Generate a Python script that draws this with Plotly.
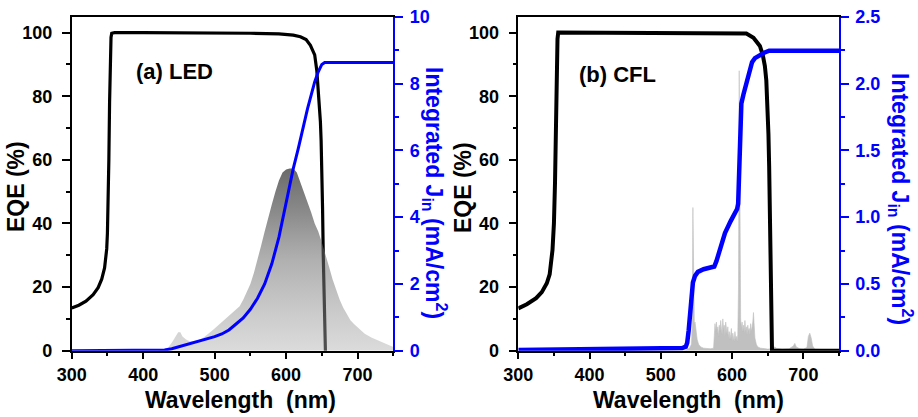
import plotly.graph_objects as go

# ---------------- data ----------------
# (a) LED
eqe_a_wl = [300, 310, 320, 330, 337, 342, 346, 348, 349, 350, 351, 352, 353, 354, 355, 356, 360, 400, 500, 550,
            590, 610, 620, 628, 634, 638, 640, 643, 646, 648, 649, 650, 651, 652, 653, 654, 655]
eqe_a = [13.4, 14.3, 15.6, 17.6, 19.8, 22.5, 26, 29.5, 32, 37, 46, 60, 78, 92, 98.5, 99.8, 100, 100, 100, 99.8,
         99.6, 99.2, 98.7, 97.8, 96, 94, 93, 88, 80, 72, 66, 58, 45, 30, 15, 4, 0]

led_wl = [300, 420, 430, 435, 440, 445, 449, 452, 455, 460, 465, 470, 475, 480, 485, 490, 495, 500, 505, 510,
          515, 520, 525, 530, 535, 540, 545, 550, 555, 560, 565, 570, 575, 580, 585, 590, 595, 600, 605, 610,
          615, 620, 625, 630, 635, 640, 645, 650, 655, 660, 665, 670, 675, 680, 685, 690, 695, 700, 710, 720,
          730, 740, 750]
led_spec = [0, 0, 0.5, 1, 2.5, 4.5, 5.8, 5.8, 4.5, 3.5, 3, 3, 3.2, 3.5, 4.2, 5, 6, 7, 8, 9,
            10, 11, 12, 12.8, 14, 16, 18.5, 21, 24.5, 28.5, 33, 37.5, 42, 46, 50, 53.5, 56, 57, 57.3, 57.3,
            56, 53, 50, 46.5, 43.5, 40, 37.5, 34, 30.5, 26.5, 22.5, 19, 16, 13.5, 11.3, 9.6, 8.4, 7.3, 5.3, 4.1,
            3.1, 2.3, 1.2]

jin_a_wl = [300, 420, 430, 440, 450, 460, 470, 480, 490, 500, 510, 520, 530, 540, 550, 560, 570, 580, 590, 596,
            600, 605, 610, 617, 625, 630, 640, 645, 650, 654, 750]
jin_a = [0, 0, 0.02, 0.06, 0.12, 0.18, 0.23, 0.28, 0.34, 0.42, 0.5, 0.62, 0.8, 0.98, 1.24, 1.57, 2.0, 2.6, 3.4, 4.0,
         4.4, 5.0, 5.45, 6.05, 6.8, 7.25, 8.05, 8.35, 8.57, 8.63, 8.63]

# (b) CFL
eqe_b_wl = [300, 312, 325, 333, 340, 344, 348, 350, 351.5, 352.5, 353.8, 355, 356, 360, 400, 500, 560, 600,
            620, 630, 639, 643, 646, 648, 649.5, 651, 652, 653, 654, 655, 655.5, 656, 750]
eqe_b = [13.3, 14.6, 16.5, 18.4, 21.2, 24, 31.7, 40, 52.7, 70, 89.5, 98, 100, 100, 100, 100, 99.9, 99.8,
         99.7, 98.4, 95.8, 93, 89.5, 85, 79, 68, 58, 42, 26.5, 10, 1.3, 0, 0]

cfl_wl = [300, 535, 536, 540, 543, 544, 545, 546, 547, 548, 549, 550, 551, 553, 556, 560, 565, 570, 574, 575,
          576, 577, 578, 579, 580, 581, 582, 583, 584, 585, 586, 587, 588, 589, 590, 591, 592, 593, 594, 595,
          596, 597, 598, 599, 600, 601, 602, 603, 604, 605, 606, 607, 608, 609, 610, 611, 612, 613, 614, 615,
          616, 617, 618, 619, 620, 621, 622, 623, 624, 625, 626, 627, 628, 629, 630, 631, 632, 634, 636, 640,
          645, 650, 655, 660, 662, 670, 680, 686, 688, 690, 695, 700, 705, 707, 709, 711, 713, 716, 730, 750]
cfl_spec = [0, 0, 0.3, 0.8, 2, 8, 45, 12, 8.5, 9, 7, 5, 3.5, 2, 1.2, 0.8, 0.6, 0.6, 0.8, 7,
            8.5, 6, 9, 5.5, 7.5, 4.5, 8, 6, 9.5, 7, 5, 10, 6.5, 8, 4.5, 9, 6, 5, 7.5, 4,
            6, 3.5, 5, 7, 3, 5.5, 4, 3, 6, 3.5, 4.5, 3, 5, 20, 88, 40, 10, 7, 9, 6,
            8, 5.5, 9.5, 6, 7.5, 5, 8, 6, 7, 5, 8.5, 6, 7, 9, 12, 8, 4, 2, 1.2, 0.8,
            0.6, 0.5, 0.6, 1.2, 0.8, 0.5, 0.6, 1.5, 2.3, 1.2, 0.6, 0.5, 1, 4.5, 5.5, 4, 1.5, 0.5, 0.3, 0.2]

jin_b_wl = [300, 400, 450, 500, 530, 535, 537, 539, 541, 543, 545, 548, 552, 560, 570, 575, 578, 583, 590, 598,
            604, 607, 608.5, 609.5, 610.5, 611.5, 613, 616, 620, 625, 628, 632, 638, 645, 652, 660, 750]
jin_b = [0.005, 0.01, 0.01, 0.015, 0.02, 0.03, 0.06, 0.15, 0.3, 0.43, 0.51, 0.56, 0.59, 0.61, 0.62, 0.63, 0.67, 0.76, 0.88, 0.97,
         1.03, 1.06, 1.1, 1.25, 1.5, 1.75, 1.85, 1.92, 2.0, 2.1, 2.16, 2.19, 2.21, 2.23, 2.245, 2.245, 2.245]

x_ticks = [300, 400, 500, 600, 700]
eqe_ticks = [0, 20, 40, 60, 80, 100]
jin_a_ticks = [0, 2, 4, 6, 8, 10]
jin_b_ticks = [0.0, 0.5, 1.0, 1.5, 2.0, 2.5]

# ---------------- figure ----------------
W, H = 918, 417
FONT = "Liberation Sans"
BLUE = "#0000ff"

fig = go.Figure()

# panel (a)
fig.add_trace(go.Scatter(x=eqe_a_wl, y=eqe_a, mode="lines", line=dict(color="black", width=3.2),
                         xaxis="x", yaxis="y", showlegend=False))
fig.add_trace(go.Scatter(x=led_wl, y=led_spec, mode="lines", fill="tozeroy", line=dict(width=0, color="rgba(0,0,0,0)"),
                         fillgradient=dict(type="vertical",
                                           colorscale=[[0, "rgba(175,175,175,0.45)"], [0.5, "rgba(111,111,111,0.55)"],
                                                       [0.75, "rgba(78,78,78,0.65)"], [1, "rgba(56,56,56,0.75)"]]),
                         xaxis="x", yaxis="y", showlegend=False))
fig.add_trace(go.Scatter(x=jin_a_wl, y=jin_a, mode="lines", line=dict(color=BLUE, width=3),
                         xaxis="x", yaxis="y2", showlegend=False))

# panel (b)
fig.add_trace(go.Scatter(x=cfl_wl, y=cfl_spec, mode="lines", fill="tozeroy", line=dict(width=0.6, color="#c0c0c0"),
                         fillcolor="#c0c0c0", xaxis="x2", yaxis="y3", showlegend=False))
fig.add_trace(go.Scatter(x=eqe_b_wl, y=eqe_b, mode="lines", line=dict(color="black", width=4),
                         xaxis="x2", yaxis="y3", showlegend=False))
fig.add_trace(go.Scatter(x=jin_b_wl, y=jin_b, mode="lines", line=dict(color=BLUE, width=4.5),
                         xaxis="x2", yaxis="y4", showlegend=False))

# geometry (pixels)
ax_l, ax_r = 71.7, 393.3
bx_l, bx_r = 518.3, 839.0
y_top, y_bot = 16.7, 350.7
ydom = [1 - y_bot / H, 1 - y_top / H]

tickfont_k = dict(family=FONT, size=18, color="black", weight="bold")
tickfont_b = dict(family=FONT, size=18, color=BLUE, weight="bold")


def xaxis_cfg(dom, anchor):
    return dict(domain=dom, anchor=anchor, range=[300, 750], tickvals=x_ticks, ticks="outside", ticklen=7,
                tickwidth=1.5, tickcolor="black", showline=True, linecolor="black", linewidth=1.5, mirror=True,
                showgrid=False, zeroline=False, tickfont=tickfont_k, automargin=False,
                minor=dict(tickvals=[350, 450, 550, 650, 750], ticks="outside", ticklen=4, tickwidth=1.5,
                           tickcolor="black"))


def yleft_cfg(anchor):
    return dict(domain=ydom, anchor=anchor, range=[0, 105], tickvals=eqe_ticks, ticks="outside", ticklen=8,
                tickwidth=1.5, tickcolor="black", showline=True, linecolor="black", linewidth=1.5,
                showgrid=False, zeroline=False, tickfont=tickfont_k, automargin=False, ticklabelstandoff=6,
                minor=dict(tickvals=[10, 30, 50, 70, 90], ticks="outside", ticklen=4, tickwidth=1.5,
                           tickcolor="black"))


def yright_cfg(anchor, over, rng, tv, minor_tv, fmt):
    return dict(domain=ydom, anchor=anchor, overlaying=over, side="right", range=rng, tickvals=tv,
                tickformat=fmt, ticks="outside", ticklen=8, tickwidth=1.5, tickcolor=BLUE, showline=True,
                linecolor=BLUE, linewidth=1.5, showgrid=False, zeroline=False, tickfont=tickfont_b,
                automargin=False, ticklabelstandoff=3,
                minor=dict(tickvals=minor_tv, ticks="outside", ticklen=4, tickwidth=1.5, tickcolor=BLUE))


fig.update_layout(
    width=W, height=H, autosize=False,
    margin=dict(l=0, r=0, t=0, b=0, pad=0),
    paper_bgcolor="white", plot_bgcolor="white",
    xaxis=xaxis_cfg([ax_l / W, ax_r / W], "y"),
    yaxis=yleft_cfg("x"),
    yaxis2=yright_cfg("x", "y", [0, 10], jin_a_ticks, [1, 3, 5, 7, 9], "d"),
    xaxis2=xaxis_cfg([bx_l / W, bx_r / W], "y3"),
    yaxis3=yleft_cfg("x2"),
    yaxis4=yright_cfg("x2", "y3", [0, 2.5], jin_b_ticks, [0.25, 0.75, 1.25, 1.75, 2.25], ".1f"),
)


def ann(text, px, py, size, color="black", angle=0):
    fig.add_annotation(text=text, x=px / W, y=1 - py / H, xref="paper", yref="paper", showarrow=False,
                       textangle=angle, xanchor="center", yanchor="middle",
                       font=dict(family=FONT, size=size, color=color, weight="bold"))


ann("EQE (%)", 16, 187, 23, angle=-90)
ann("EQE (%)", 463, 187, 23, angle=-90)
ann("Integrated J<sub>in</sub> (mA/cm<sup>2</sup>)", 435, 193, 23, color=BLUE, angle=90)
ann("Integrated J<sub>in</sub> (mA/cm<sup>2</sup>)", 901, 199, 23, color=BLUE, angle=90)
ann("Wavelength\u00a0 (nm)", 241, 400, 23)
ann("Wavelength\u00a0 (nm)", 688, 400, 23)
ann("(a) LED", 174, 71, 22)
ann("(b) CFL", 617, 74, 22)

fig.write_html("out.html", config={"displayModeBar": False},
               post_script="document.body.style.margin='0';document.body.style.overflow='hidden';")
